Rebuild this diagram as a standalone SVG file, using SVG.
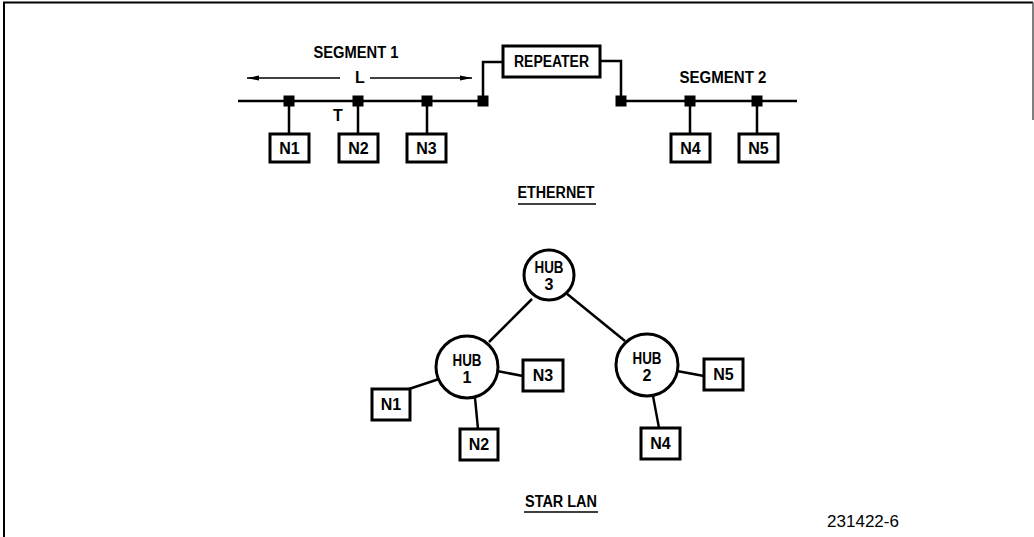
<svg xmlns="http://www.w3.org/2000/svg" width="1034" height="537" viewBox="0 0 1034 537">
<style>
.box{fill:#fff;stroke:#000;stroke-width:3}
.hub{fill:#fff;stroke:#000;stroke-width:3}
.ln{fill:none;stroke:#000;stroke-width:2.5}
.thin{fill:none;stroke:#000;stroke-width:1.3}
.tap{fill:#000}
.t{font-family:"Liberation Sans",Arial,sans-serif;font-weight:bold;font-size:16px;fill:#000;text-anchor:middle}
.r{font-family:"Liberation Sans",Arial,sans-serif;font-size:17px;fill:#000;text-anchor:middle}
</style>
<defs>
<marker id="ah" viewBox="0 0 12 6" refX="12" refY="3" markerWidth="12" markerHeight="6" markerUnits="userSpaceOnUse" orient="auto">
<path d="M0,0.5 L12,3 L0,5.5 Z" fill="#000"/>
</marker>
</defs>
<rect width="1034" height="537" fill="#fff"/>
<g id="frame">
<path d="M4,537 V2.5 H1033" fill="none" stroke="#000" stroke-width="2"/>
<path d="M1033,2.5 V120" fill="none" stroke="#555" stroke-width="1.5"/>
</g>
<g id="connectors">
<path class="ln" d="M238,101 H483"/>
<path class="ln" d="M621,101 H797"/>
<path class="ln" d="M483,101 V62 H503"/>
<path class="ln" d="M600,61 H621 V101"/>
<path class="ln" d="M289,101 V134 M358,101 V134 M427,101 V134 M690,101 V134 M757,101 V134"/>
<path class="thin" d="M340,78 H247" marker-end="url(#ah)"/>
<path class="thin" d="M370,78 H472" marker-end="url(#ah)"/>
<path class="ln" d="M532,299 L489,342"/>
<path class="ln" d="M566,293 L625,341"/>
<path class="ln" d="M497,371 L523,376"/>
<path class="ln" d="M439,379 L409,389"/>
<path class="ln" d="M475,398 L478,429"/>
<path class="ln" d="M677,371 L704,376"/>
<path class="ln" d="M653,396 L659,428"/>
</g>
<g id="taps">
<rect class="tap" x="283.5" y="95.5" width="11" height="11"/>
<rect class="tap" x="352.5" y="95.5" width="11" height="11"/>
<rect class="tap" x="421.5" y="95.5" width="11" height="11"/>
<rect class="tap" x="477.5" y="95.5" width="11" height="11"/>
<rect class="tap" x="615.5" y="95.5" width="11" height="11"/>
<rect class="tap" x="684.5" y="95.5" width="11" height="11"/>
<rect class="tap" x="751.5" y="95.5" width="11" height="11"/>
</g>
<g id="labels">
<text class="t" x="356" y="58" textLength="85" lengthAdjust="spacingAndGlyphs">SEGMENT 1</text>
<text class="t" x="360" y="83">L</text>
<text class="t" x="338" y="121">T</text>
<text class="t" x="723" y="83" textLength="87" lengthAdjust="spacingAndGlyphs">SEGMENT 2</text>
<text class="t" x="556" y="198" textLength="77" lengthAdjust="spacingAndGlyphs">ETHERNET</text>
<path d="M518,204 H596" stroke="#000" stroke-width="1.5"/>
<text class="t" x="561" y="507" textLength="72" lengthAdjust="spacingAndGlyphs">STAR LAN</text>
<path d="M524,512 H598" stroke="#000" stroke-width="1.5"/>
<text class="r" x="863" y="527">231422-6</text>
</g>
<g id="repeater">
<rect class="box" x="503" y="46" width="97" height="31"/>
<text class="t" x="551.5" y="67" textLength="75" lengthAdjust="spacingAndGlyphs">REPEATER</text>
</g>
<g id="eth-n1"><rect class="box" x="270" y="134" width="39" height="28"/><text class="t" x="289.5" y="154">N1</text></g>
<g id="eth-n2"><rect class="box" x="339" y="134" width="39" height="28"/><text class="t" x="358.5" y="154">N2</text></g>
<g id="eth-n3"><rect class="box" x="407" y="134" width="39" height="28"/><text class="t" x="426.5" y="154">N3</text></g>
<g id="eth-n4"><rect class="box" x="671" y="134" width="39" height="28"/><text class="t" x="690.5" y="154">N4</text></g>
<g id="eth-n5"><rect class="box" x="739" y="134" width="39" height="28"/><text class="t" x="758.5" y="154">N5</text></g>
<g id="hub3"><circle class="hub" cx="549" cy="275" r="25"/><text class="t" x="549" y="273" textLength="29" lengthAdjust="spacingAndGlyphs">HUB</text><text class="t" x="549" y="290">3</text></g>
<g id="hub1"><circle class="hub" cx="467" cy="367" r="31"/><text class="t" x="467" y="366" textLength="29" lengthAdjust="spacingAndGlyphs">HUB</text><text class="t" x="467" y="383">1</text></g>
<g id="hub2"><circle class="hub" cx="647" cy="365" r="31"/><text class="t" x="647" y="364" textLength="29" lengthAdjust="spacingAndGlyphs">HUB</text><text class="t" x="647" y="381">2</text></g>
<g id="star-n1"><rect class="box" x="372" y="389" width="38" height="31"/><text class="t" x="391" y="410">N1</text></g>
<g id="star-n2"><rect class="box" x="460" y="429" width="38" height="31"/><text class="t" x="479" y="450">N2</text></g>
<g id="star-n3"><rect class="box" x="523" y="360" width="40" height="31"/><text class="t" x="543" y="381">N3</text></g>
<g id="star-n4"><rect class="box" x="641" y="428" width="39" height="31"/><text class="t" x="660.5" y="449">N4</text></g>
<g id="star-n5"><rect class="box" x="704" y="359" width="39" height="31"/><text class="t" x="723.5" y="380">N5</text></g>
</svg>
